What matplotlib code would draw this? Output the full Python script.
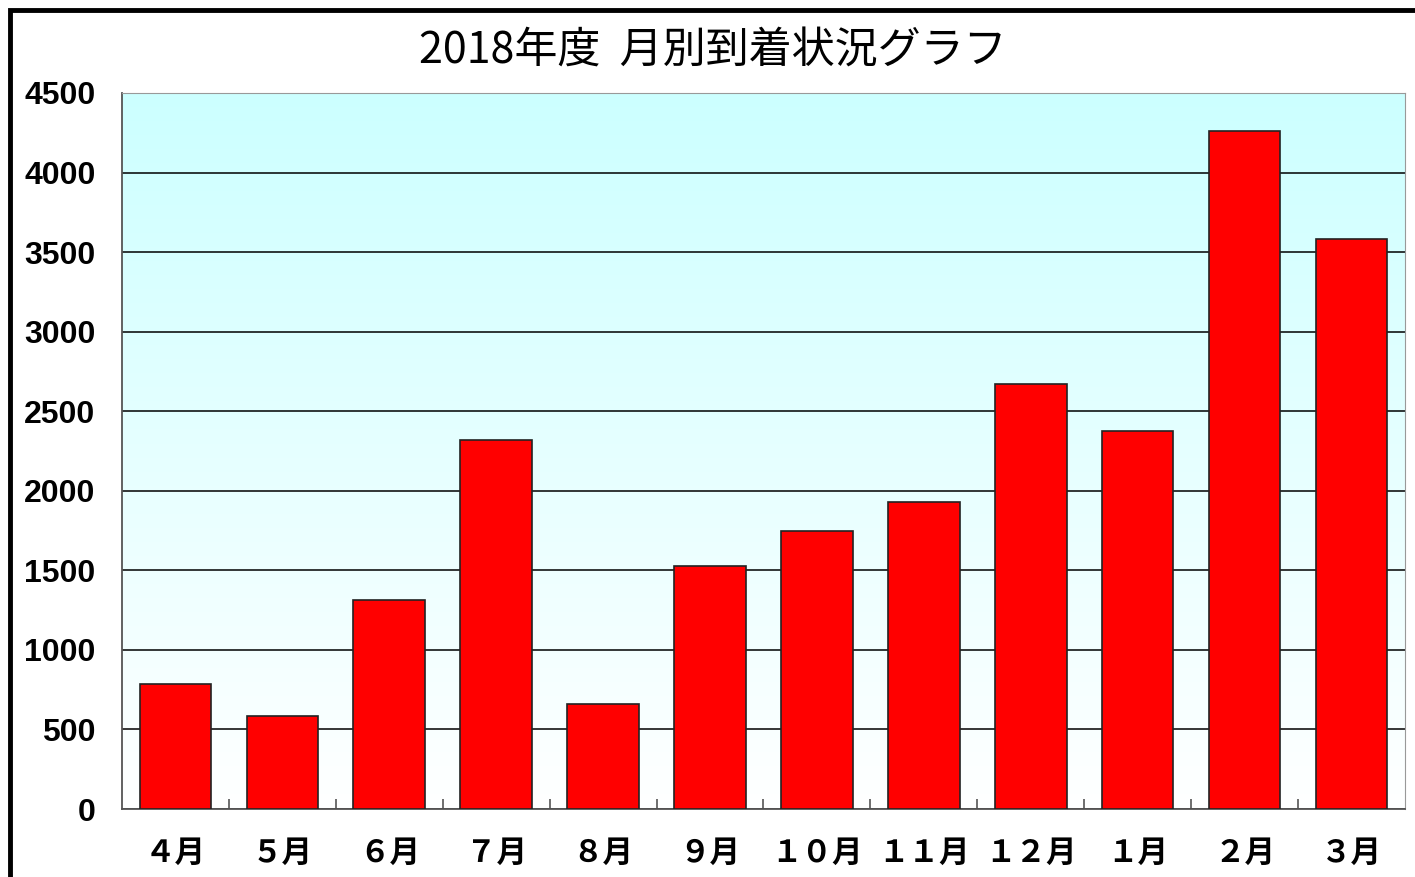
import numpy as np
import matplotlib.pyplot as plt
from matplotlib.colors import LinearSegmentedColormap
from matplotlib.patches import Rectangle

plt.rcParams['font.family'] = ['Noto Sans CJK JP', 'DejaVu Sans']

months = ['４月', '５月', '６月', '７月', '８月', '９月', '１０月', '１１月', '１２月', '１月', '２月', '３月']
arrivals = [785, 584, 1313, 2319, 660, 1527, 1747, 1930, 2671, 2376, 4262, 3583]
yticks = [0, 500, 1000, 1500, 2000, 2500, 3000, 3500, 4000, 4500]

fig = plt.figure(figsize=(14.15, 8.77), dpi=100)
ax = fig.add_axes([0.0862, 0.0775, 0.9067, 0.8165])

# outer frame (runs off the right/bottom edge like the screenshot)
fig.patches.append(Rectangle((10 / 1415, -0.05), 1.1, 1 - 10 / 877 + 0.05,
                             transform=fig.transFigure, fill=False,
                             edgecolor='black', linewidth=3.5, zorder=0))

# light cyan -> white gradient in the plot area
cmap = LinearSegmentedColormap.from_list('bg', ['#ffffff', '#ccffff'])
grad = np.linspace(0, 1, 256).reshape(-1, 1)
ax.imshow(grad, cmap=cmap, aspect='auto', origin='lower',
          extent=(-0.5, len(months) - 0.5, 0, 4500), zorder=0)

x = np.arange(len(months))
ax.bar(x, arrivals, width=0.67, color='#ff0000', edgecolor='#222222',
       linewidth=1.2, zorder=3)

ax.set_xlim(-0.5, len(months) - 0.5)
ax.set_ylim(0, 4500)
ax.set_yticks(yticks)
ax.yaxis.grid(True, color='black', linewidth=1.1, zorder=1)
ax.set_axisbelow(True)

ax.set_yticklabels([str(v) for v in yticks], fontsize=23, fontweight='bold',
                   family=['Liberation Sans', 'DejaVu Sans'])
ax.tick_params(axis='y', length=0, pad=19)

ax.set_xticks(x)
ax.set_xticklabels(months, fontsize=22, fontweight='bold')
ax.tick_params(axis='x', which='major', length=0, pad=20)
ax.set_xticks(np.arange(0.5, len(months) - 0.5), minor=True)
ax.tick_params(axis='x', which='minor', direction='in', length=7,
               color='#555555', width=1.2)

for side in ['top', 'right']:
    ax.spines[side].set_color('#999999')
for side in ['left', 'bottom']:
    ax.spines[side].set_color('#555555')
    ax.spines[side].set_linewidth(1.3)

fig.text(0.504, 0.941, '2018年度  月別到着状況グラフ', ha='center', va='center',
         fontsize=31)

fig.savefig('out.png', dpi=100)
